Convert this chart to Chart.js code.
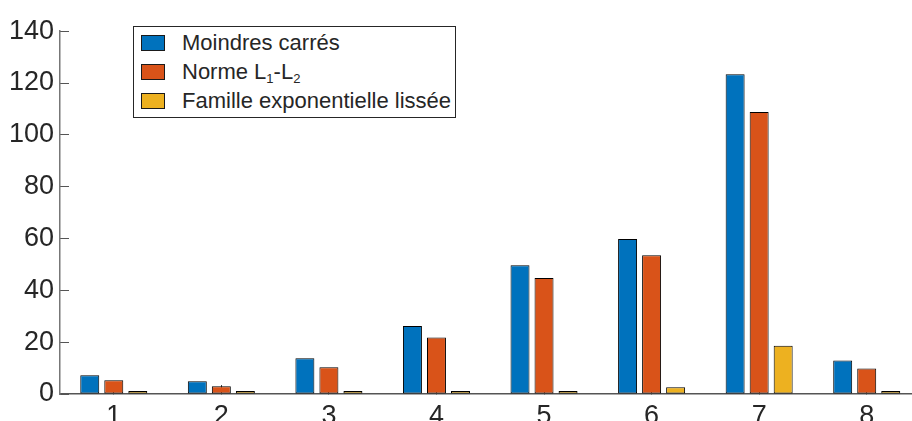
<!DOCTYPE html>
<html>
<head>
<meta charset="utf-8">
<script src="https://cdn.jsdelivr.net/npm/chart.js@4"></script>
<style>
html,body{margin:0;padding:0;background:#fff;overflow:hidden;width:912px;height:421px;}
#wrap{position:relative;width:940px;height:450px;}
#legend{position:absolute;left:133px;top:26px;border:1px solid #262626;background:#fff;padding:1px 4px 2px 7px;
	font-family:"Liberation Sans",Arial,sans-serif;font-size:22px;color:#262626;}
#legend .row{height:29px;line-height:29px;white-space:nowrap;}
#legend .sw{display:inline-block;width:22px;height:14px;border:1px solid #1a1a1a;vertical-align:-1px;margin-right:17px;}
#legend sub{font-size:13px;vertical-align:-4px;line-height:0;}
</style>
</head>
<body>
<div id="wrap">
<canvas id="barChart" width="940" height="450"></canvas>
<div id="legend"></div>
</div>
<script>
let categories=['1','2','3','4','5','6','7','8'];
let seriesNames=['Moindres carrés','Norme L<sub>1</sub>-L<sub>2</sub>','Famille exponentielle lissée'];
let moindresCarres=[7.2,4.9,13.8,26.2,49.7,59.8,123.4,12.9];
let normeL1L2=[5.3,3.0,10.3,21.8,44.8,53.5,108.8,9.8];
let familleExp=[0.4,0.4,0.6,0.6,1.0,2.6,18.6,0.6];
let yTicks=[0,20,40,60,80,100,120,140];
let colors=['#0072BD','#D95319','#EDB120'];

let font={family:'"Liberation Sans", Arial, sans-serif',size:27};

let ds=(i,d)=>{
	return {
		label:seriesNames[i],
		data:d,
		backgroundColor:colors[i],
		borderColor:'#000',
		borderWidth:1,
		borderSkipped:false,
		minBarLength:3,
		categoryPercentage:0.67,
		barPercentage:0.79
	}
}

let ctx=document.getElementById('barChart');
let chart=new Chart(ctx,{
	type:'bar',
	data:{
		labels:categories,
		datasets:[ds(0,moindresCarres),ds(1,normeL1L2),ds(2,familleExp)]
	},
	options:{
		responsive:false,
		animation:false,
		devicePixelRatio:1,
		layout:{padding:{top:26,right:19.5,left:0,bottom:0}},
		plugins:{legend:{display:false},tooltip:{enabled:false}},
		scales:{
			x:{
				z:1,
				offset:true,
				grid:{offset:false,drawOnChartArea:false,tickLength:-9,color:'#404040',lineWidth:1},
				border:{display:true,color:'#555',width:1.5},
				ticks:{font:font,color:'#262626',padding:15,maxRotation:0},
				afterFit:s=>{s.height=56}
			},
			y:{
				z:1,
				min:0,
				max:140,
				afterBuildTicks:s=>{s.ticks=yTicks.map(v=>({value:v}))},
				grid:{drawOnChartArea:false,tickLength:-9,color:'#555',lineWidth:1},
				border:{display:true,color:'#777',width:1.5},
				ticks:{font:font,color:'#262626',padding:15},
				afterFit:s=>{s.width=60}
			}
		}
	}
});

chart.data.datasets.forEach(d=>{
	$row='<div class="row"><span class="sw" style="background:'+d.backgroundColor+'"></span>'+d.label+'</div>';
	document.getElementById('legend').insertAdjacentHTML('beforeend',$row);
})
</script>
</body>
</html>
